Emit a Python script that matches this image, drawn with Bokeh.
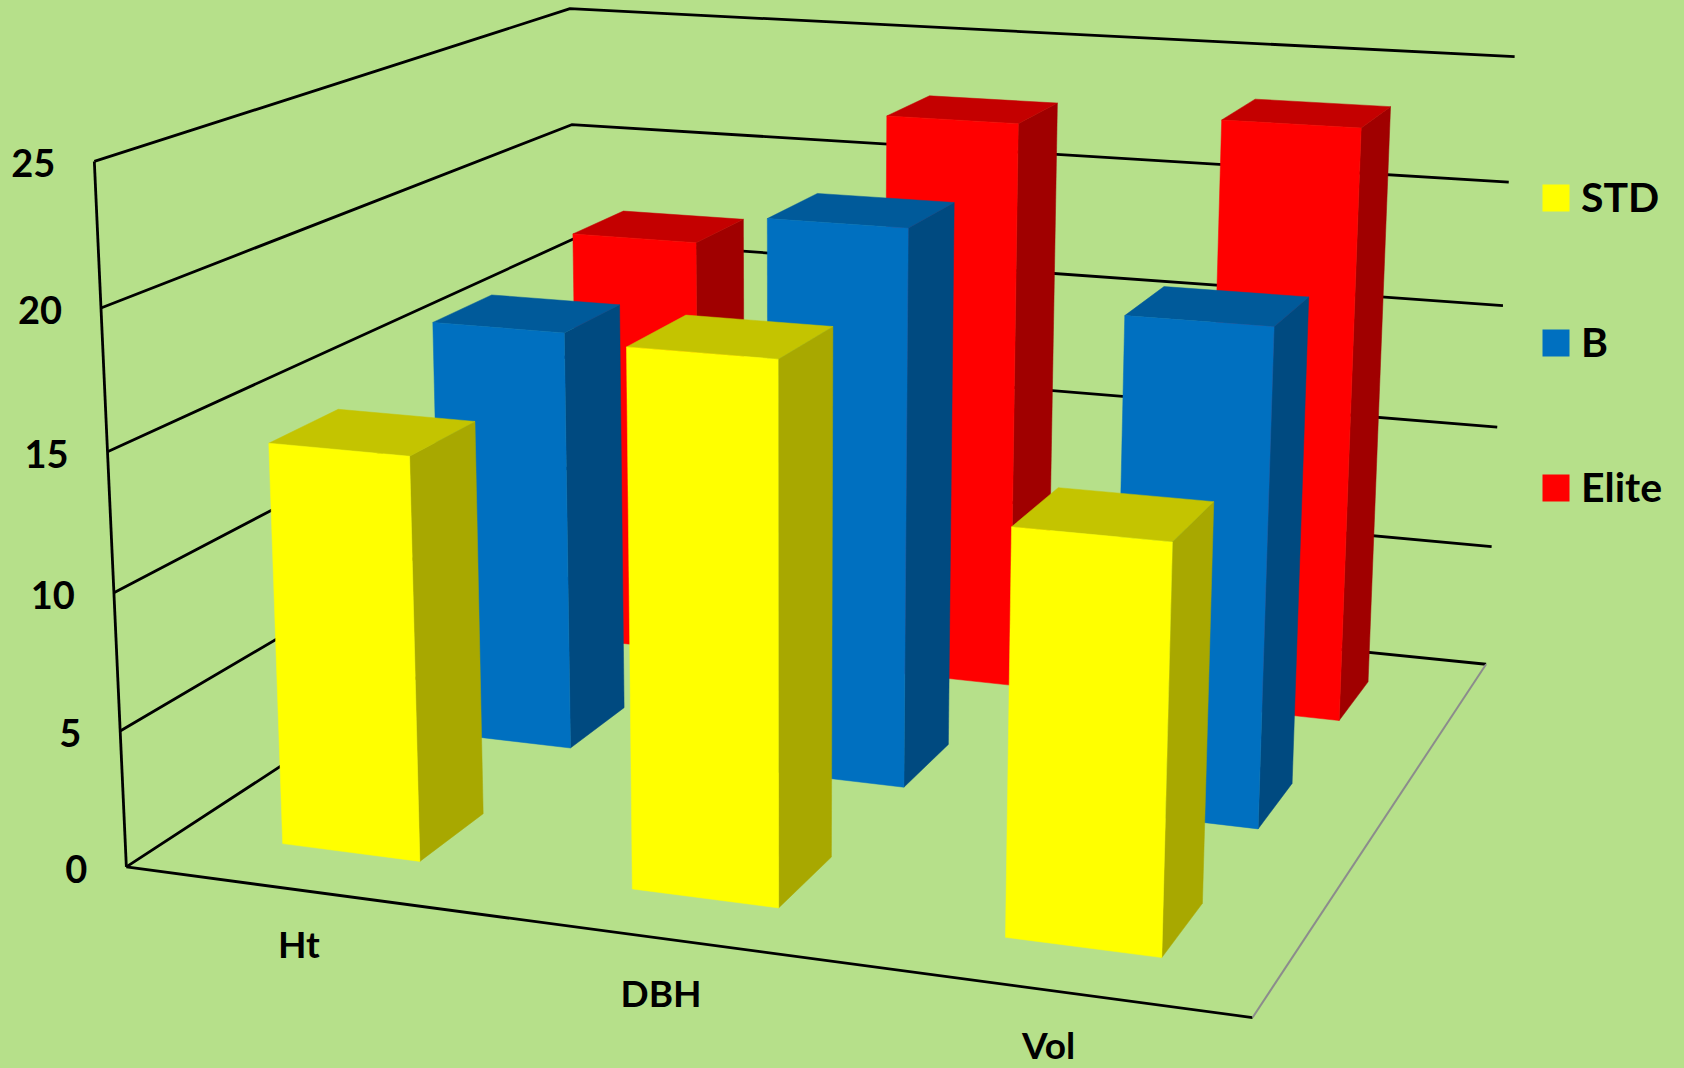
import numpy as np
from bokeh.plotting import figure
from bokeh.models import Range1d
from bokeh.embed import file_html
from bokeh.resources import INLINE
from bokeh.core.properties import value

categories = ["Ht", "DBH", "Vol"]
series_names = ["STD", "B", "Elite"]
std_values = [14.7, 19.15, 14.2]
b_values = [16.25, 21.1, 18.5]
elite_values = [17.2, 22.8, 23.4]
z_ticks = [0, 5, 10, 15, 20, 25]

BG = "#b6e08a"
FACE = {"STD": ("#ffff00", "#a8a800", "#c4c400"),
        "B": ("#0070c0", "#004a80", "#005a9a"),
        "Elite": ("#ff0000", "#a00000", "#c40000")}
W, H = 1684, 1068

# camera calibration: (category axis, depth axis, value axis) -> reference pixel
calib_world = [(0, 0, 25), (0, 0, 20), (0, 0, 5), (0, 0, 0),
               (0, 3, 25), (0, 3, 20),
               (3, 3, 25), (3, 3, 20), (3, 3, 15), (3, 3, 10), (3, 3, 5), (3, 3, 0),
               (3, 0, 0)]
calib_image = [(92.9, 161), (102, 306.7), (119.3, 730.7), (126, 866.7),
               (569, 8.3), (571.4, 124.3),
               (1514, 56.2), (1508.3, 181.8), (1502.3, 305), (1497.3, 427), (1491.7, 545.8), (1485, 663.3),
               (1251.7, 1017.3)]


def fit_camera(world, image):
    rows = []
    for (X, Y, Z), (u, v) in zip(world, image):
        rows.append([X, Y, Z, 1, 0, 0, 0, 0, -u * X, -u * Y, -u * Z, -u])
        rows.append([0, 0, 0, 0, X, Y, Z, 1, -v * X, -v * Y, -v * Z, -v])
    return np.linalg.svd(np.array(rows, float))[2][-1].reshape(3, 4)


CAM = fit_camera(calib_world, calib_image)


def project(X, Y, Z):
    a = CAM @ np.array([X, Y, Z, 1.0])
    return a[0] / a[2], a[1] / a[2]


def path(points):
    pts = [project(*q) for q in points]
    return [q[0] for q in pts], [q[1] for q in pts]


p = figure(width=W, height=H, x_range=Range1d(0, W), y_range=Range1d(H, 0),
           toolbar_location=None, output_backend="svg", min_border=0,
           background_fill_color=BG, border_fill_color=BG, outline_line_color=None)
p.axis.visible = False
p.grid.visible = False

n = len(categories)
top = z_ticks[-1]
for z in z_ticks:
    xs, ys = path([(0, 0, z), (0, n, z), (n, n, z)])
    p.line(xs, ys, line_color="black", line_width=2.8)
xs, ys = path([(0, 0, 0), (0, 0, top)])
p.line(xs, ys, line_color="black", line_width=2.8)
xs, ys = path([(0, 0, 0), (n, 0, 0)])
p.line(xs, ys, line_color="black", line_width=2.8)
xs, ys = path([(n, 0, 0), (n, n, 0)])
p.line(xs, ys, line_color="#8c8c8c", line_width=2)

BAR = 0.4
all_values = {"STD": std_values, "B": b_values, "Elite": elite_values}
for depth in range(2, -1, -1):
    name = series_names[depth]
    y0, y1 = depth + 0.5 - BAR / 2, depth + 0.5 + BAR / 2
    front, side, lid = FACE[name]
    for i, v in enumerate(all_values[name]):
        x0, x1 = i + 0.5 - BAR / 2, i + 0.5 + BAR / 2
        faces = [([(x1, y0, 0), (x1, y1, 0), (x1, y1, v), (x1, y0, v)], side),
                 ([(x0, y0, v), (x1, y0, v), (x1, y1, v), (x0, y1, v)], lid),
                 ([(x0, y0, 0), (x1, y0, 0), (x1, y0, v), (x0, y0, v)], front)]
        for corners, colour in faces:
            xs, ys = path(corners)
            p.patch(xs, ys, fill_color=colour, line_color=colour, line_width=0.5)

FONT = value("Lato")
tx, ty = zip(*[project(0, 0, z) for z in z_ticks])
p.text(list(tx), list(ty), text=[str(z) for z in z_ticks], x_offset=-39, y_offset=2, text_align="right",
       text_baseline="middle", text_font=FONT, text_font_style="bold",
       text_font_size=value("38px"), text_color="black")
cx, cy = zip(*[project(i + 0.5, 0, 0) for i in range(n)])
p.text(list(cx), list(cy), text=categories, y_offset=54, x_offset=0, text_align="center",
       text_baseline="middle", text_font=FONT, text_font_style="bold",
       text_font_size=value("37px"), text_color="black")

legend_x = 1555.5
legend_y = [197.5, 342.5, 487.5]
p.scatter([legend_x] * 3, legend_y, marker="square", size=27,
          fill_color=[FACE[s][0] for s in series_names], line_color=None)
p.text([legend_x] * 3, legend_y, text=series_names, x_offset=25, y_offset=-2, text_align="left",
       text_baseline="middle", text_font=FONT, text_font_style="bold",
       text_font_size=value("41px"), text_color="black")

html = file_html(p, INLINE).replace("</head>", f"<style>html,body{{background:{BG}}}</style></head>")
open("out.html", "w").write(html)
